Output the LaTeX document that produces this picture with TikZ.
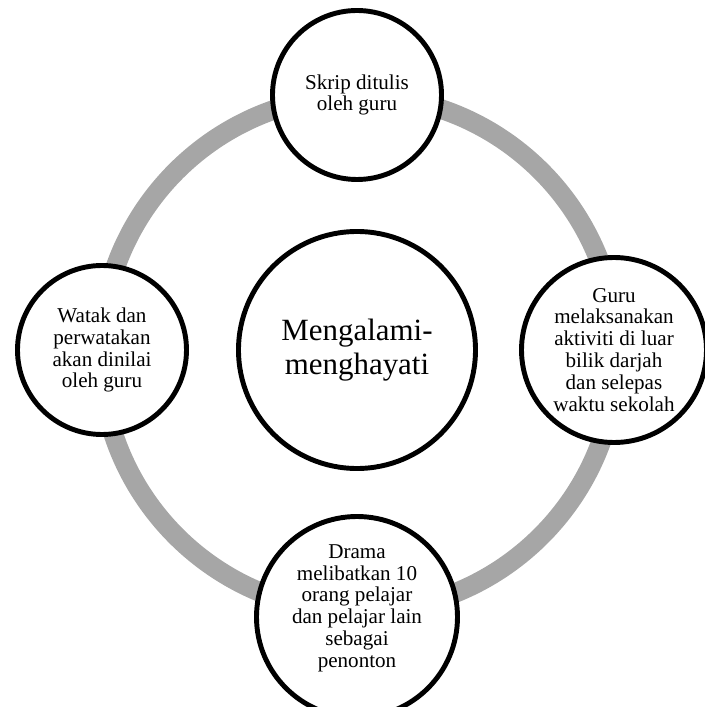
\documentclass[tikz,border=0pt]{standalone}
\usepackage{fontspec}
\setmainfont{Liberation Serif}
\usetikzlibrary{positioning}
\definecolor{ringgray}{RGB}{166,166,166}
\tikzset{main node/.style={circle,draw,fill=white,line width=3.5pt,outer sep=0pt,inner sep=0pt,align=center,font=\fontsize{15}{15.6}\selectfont},
big node/.style={main node,minimum size=5.925cm,font=\fontsize{22}{24.6}\selectfont},}

\begin{document}
\begin{tikzpicture}
    \useasboundingbox (-8.925,-8.925) rectangle (8.675,8.75);

    \node[big node] (mid) at (0,0) {Mengalami-\\menghayati};

    % grey ring behind the outer circles
    \draw[ringgray,line width=14pt] (0.04,-0.09) circle (6.45cm);

    \node[main node,minimum size=4.225cm] (top) [above=1.3cm of mid] {Skrip ditulis\\oleh guru};
    \node[main node,minimum size=4.625cm] (right) [right=1.15cm of mid] {Guru\\melaksanakan\\aktiviti di luar\\bilik darjah\\dan selepas\\waktu sekolah};
    \node[main node,minimum size=5.025cm] (bottom) [below=1.2cm of mid] {Drama\\melibatkan 10\\orang pelajar\\dan pelajar lain\\sebagai\\penonton\\\mbox{}};
    \node[main node,minimum size=4.225cm] (left) [left=1.3cm of mid] {Watak dan\\perwatakan\\akan dinilai\\oleh guru};
\end{tikzpicture}
\end{document}
